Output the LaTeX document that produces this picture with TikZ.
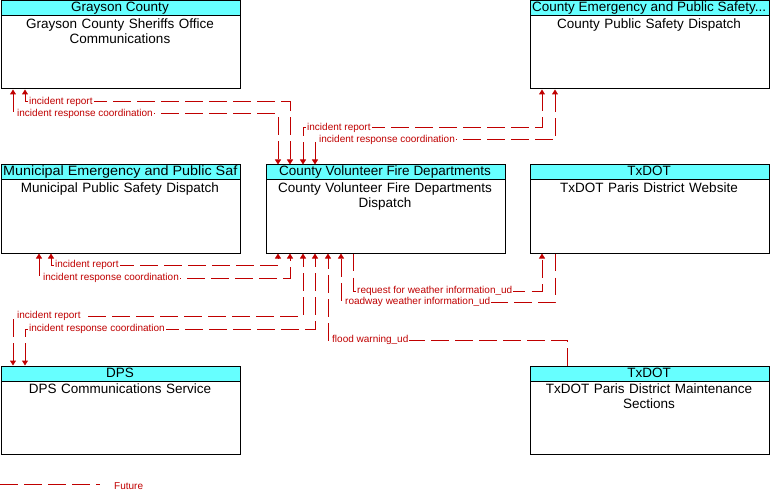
\documentclass[tikz,border=0pt]{standalone}
\usepackage{graphicx}
\usepackage{fontspec}
\setmainfont{Liberation Sans}
\usetikzlibrary{arrows.meta}
\definecolor{flowred}{RGB}{192,0,0}
\definecolor{headcyan}{RGB}{102,255,255}
\tikzset{
  box/.style={draw=black, line width=1pt, fill=white, minimum width=239pt, minimum height=88pt, anchor=north west, inner sep=0pt},
  headbox/.style={draw=black, line width=1pt, fill=headcyan, minimum width=239pt, minimum height=15pt, anchor=north west, inner sep=0pt},
  headtxt/.style={inner sep=0pt, font=\fontsize{13.5}{15}\selectfont},
  bodytxt/.style={inner sep=0pt, anchor=north, align=center, text width=236pt, font=\fontsize{13.5}{15}\selectfont},
  flow/.style={draw=flowred, line width=1pt, dash pattern=on 17.5pt off 6.5pt},
  both/.style={{Triangle[width=6pt,length=5pt]}-{Triangle[width=6pt,length=5pt]}},
  toend/.style={-{Triangle[width=6pt,length=5pt]}},
  lbl/.style={fill=white, inner sep=1pt, anchor=west, text=flowred, font=\fontsize{10}{12}\selectfont}
}
\begin{document}
\begin{tikzpicture}[x=1pt,y=-1pt]
\useasboundingbox (0,0) rectangle (776,497);

% boxes
\node[box] (gray) at (0.5,0.5) {};
\node[headbox] (grayH) at (0.5,0.5) {};
\node[headtxt, anchor=base] (grayHT) at (120,12) {Grayson County};
\node[bodytxt] (grayT) at (120,17.5) {\strut Grayson County Sheriffs Office\\Communications};

\node[box] (ceps) at (529.5,0.5) {};
\node[headbox] (cepsH) at (529.5,0.5) {};
\node[headtxt, anchor=base west] (cepsHT) at (532,12) {County Emergency and Public Safety...};
\node[bodytxt] (cepsT) at (649,17.5) {\strut County Public Safety Dispatch};

\node[box] (mun) at (0.5,164.5) {};
\node[headbox] (munH) at (0.5,164.5) {};
\begin{scope}
\clip (0.5,164.5) rectangle (239.5,179.5);
\node[headtxt, anchor=base west] (munHT) at (3,176) {\scalebox{1.065}[1]{Municipal Emergency and Public Saf}};
\end{scope}
\node[bodytxt] (munT) at (120,181.5) {\strut Municipal Public Safety Dispatch};

\node[box] (vol) at (265.5,164.5) {};
\node[headbox] (volH) at (265.5,164.5) {};
\node[headtxt, anchor=base] (volHT) at (385,176) {County Volunteer Fire Departments};
\node[bodytxt] (volT) at (385,181.5) {\strut County Volunteer Fire Departments\\Dispatch};

\node[box] (web) at (529.5,164.5) {};
\node[headbox] (webH) at (529.5,164.5) {};
\node[headtxt, anchor=base] (webHT) at (649,176) {TxDOT};
\node[bodytxt] (webT) at (649,181.5) {\strut TxDOT Paris District Website};

\node[box] (dps) at (0.5,365.5) {};
\node[headbox] (dpsH) at (0.5,365.5) {};
\node[headtxt, anchor=base] (dpsHT) at (120,377) {DPS};
\node[bodytxt] (dpsT) at (120,382.5) {\strut DPS Communications Service};

\node[box] (mnt) at (529.5,365.5) {};
\node[headbox] (mntH) at (529.5,365.5) {};
\node[headtxt, anchor=base] (mntHT) at (649,377) {TxDOT};
\node[bodytxt] (mntT) at (649,382.5) {\strut TxDOT Paris District Maintenance\\Sections};

% Grayson <-> Volunteer
\draw[flow, both] ([xshift=24.5pt]gray.south west) -- (25,102) -- (290,102) -- ([xshift=24.5pt]vol.north west);
\node[lbl] (l1) at (28,102) {incident report};
\draw[flow, both] ([xshift=12.5pt]gray.south west) -- (13,114) -- (278,114) -- ([xshift=12.5pt]vol.north west);
\node[lbl] (l2) at (16,114) {incident response coordination};

% CEPS <-> Volunteer
\draw[flow, both] ([xshift=37.5pt]vol.north west) -- (303,128) -- (542,128) -- ([xshift=12.5pt]ceps.south west);
\node[lbl] (l3) at (306,128) {incident report};
\draw[flow, both] ([xshift=49.5pt]vol.north west) -- (315,140) -- (555,140) -- ([xshift=25.5pt]ceps.south west);
\node[lbl] (l4) at (318,140) {incident response coordination};

% Municipal <-> Volunteer
\draw[flow, both] ([xshift=50.5pt]mun.south west) -- (51,265) -- (278,265) -- ([xshift=12.5pt]vol.south west);
\node[lbl] (l5) at (54,265) {incident report};
\draw[flow, both] ([xshift=38.5pt]mun.south west) -- (39,278) -- (290,278) -- ([xshift=24.5pt]vol.south west);
\node[lbl] (l6) at (42,278) {incident response coordination};

% DPS <-> Volunteer
\draw[flow, both] ([xshift=12.5pt]dps.north west) -- (13,316) -- (303,316) -- ([xshift=37.5pt]vol.south west);
\node[lbl] (l7) at (16,316) {incident report};
\draw[flow, both] ([xshift=24.5pt]dps.north west) -- (25,329) -- (315,329) -- ([xshift=49.5pt]vol.south west);
\node[lbl] (l8) at (28,329) {incident response coordination};

% Maintenance -> Volunteer
\draw[flow, toend] ([xshift=37.5pt]mnt.north west) -- (567,340) -- (328,340) -- ([xshift=62.5pt]vol.south west);
\node[lbl] (l9) at (331,340) {flood warning\_ud};

% Volunteer -> Website
\draw[flow, toend] ([xshift=87.5pt]vol.south west) -- (353,291) -- (542,291) -- ([xshift=12.5pt]web.south west);
\node[lbl] (l10) at (356,291) {request for weather information\_ud};

% Website -> Volunteer
\draw[flow, toend] ([xshift=25.5pt]web.south west) -- (555,302) -- (341,302) -- ([xshift=75.5pt]vol.south west);
\node[lbl] (l11) at (344,302) {roadway weather information\_ud};

% legend
\coordinate (lgA) at (0,484);
\coordinate (lgB) at (100,484);
\draw[flow] (lgA) -- (lgB);
\node[lbl, fill=none] (lgT) at (113,486) {Future};
\end{tikzpicture}
\end{document}
